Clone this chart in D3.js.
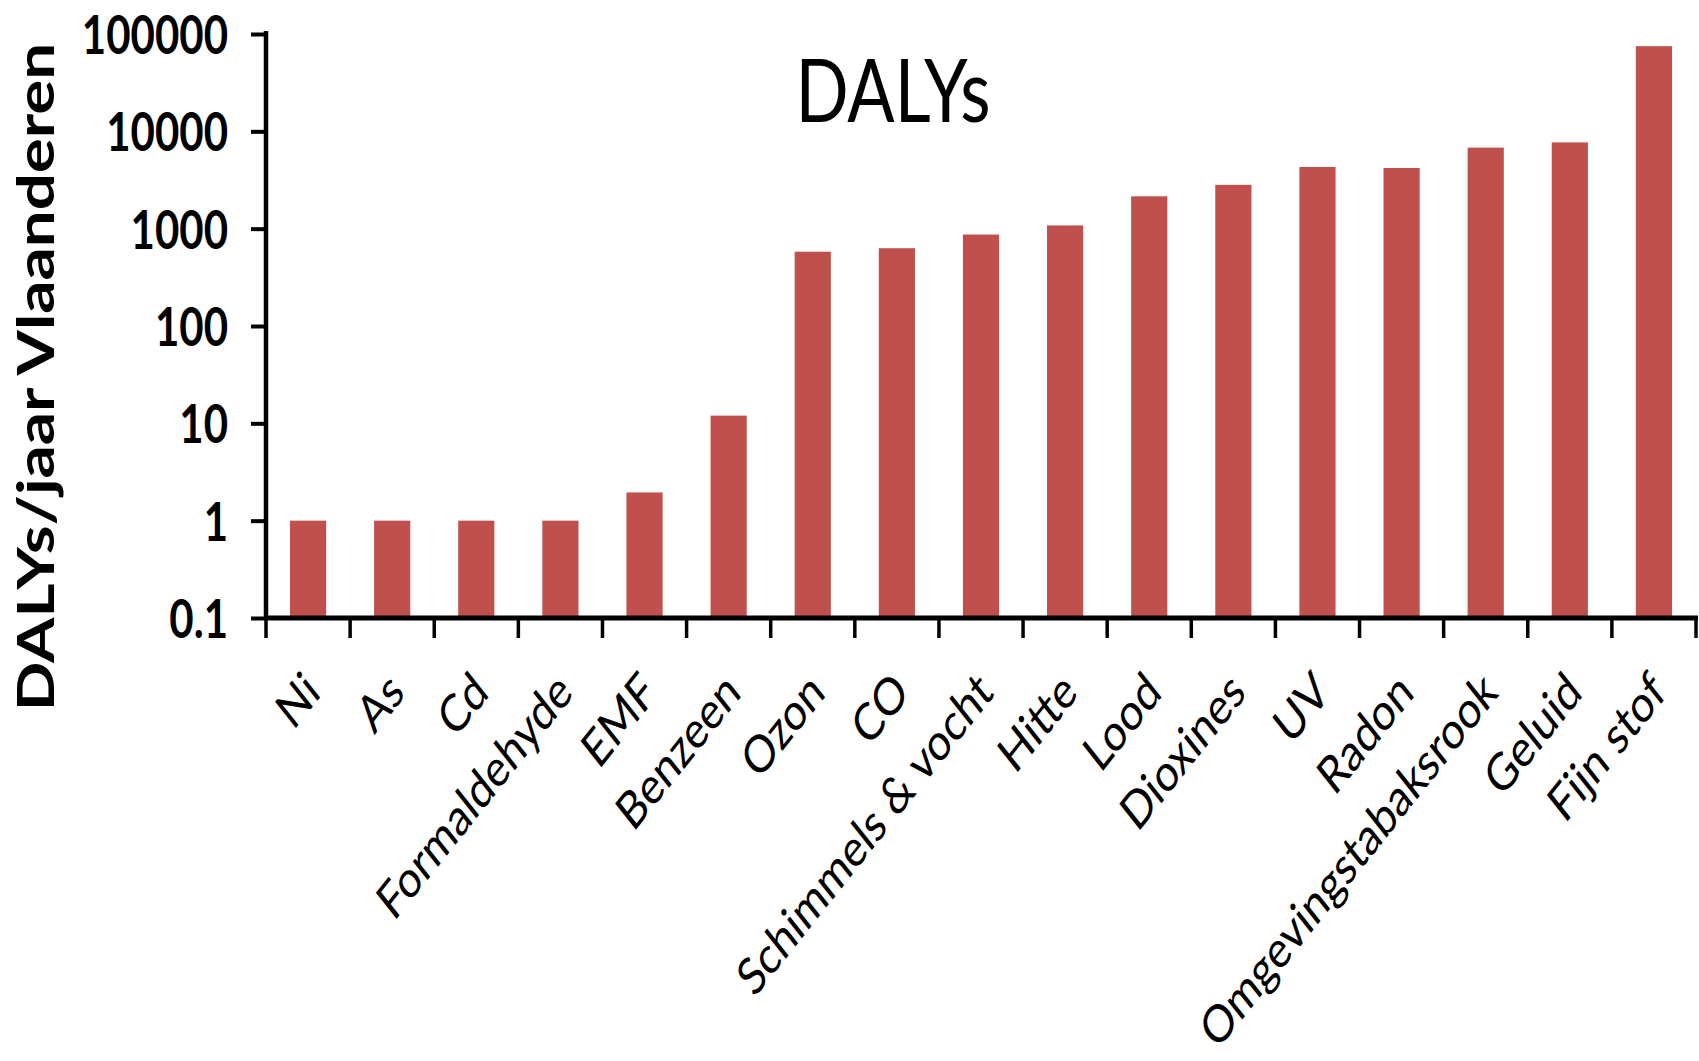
<!DOCTYPE html>
<html>
<head>
<meta charset="utf-8">
<script src="https://cdn.jsdelivr.net/npm/d3@7"></script>
<style>
  html, body { margin: 0; padding: 0; background: #fff; }
  svg { display: block; }
  text { font-family: Lato, "Open Sans", "DejaVu Sans", sans-serif; fill: #000; }
</style>
</head>
<body>
<svg id="chart" width="1699" height="1061"></svg>
<script>
// ---- data ----
const categories = ["Ni", "As", "Cd", "Formaldehyde", "EMF", "Benzeen", "Ozon", "CO",
  "Schimmels & vocht", "Hitte", "Lood", "Dioxines", "UV", "Radon",
  "Omgevingstabaksrook", "Geluid", "Fijn stof"];
const dalys = [1, 1, 1, 1, 1.95, 12, 580, 630, 870, 1080, 2150, 2820, 4300, 4200, 6800, 7700, 75000];
const yTickValues = [0.1, 1, 10, 100, 1000, 10000, 100000];
const yTickLabels = ["0.1", "1", "10", "100", "1000", "10000", "100000"];
const titleText = "DALYs";
const yAxisTitle = "DALYs/jaar Vlaanderen";

// ---- layout ----
const K = 1.26; // vertical stretch of the original picture
const mLeft = 266, mRight = 1696, mTop = 34, mBottom = 618;
const svg = d3.select("#chart");

const x = d3.scaleBand().domain(categories).range([mLeft, mRight])
  .paddingInner(0.57).paddingOuter(0.285);
const y = d3.scaleLog().domain([0.1, 100000]).range([mBottom, mTop]);

// bars
svg.append("g").selectAll("rect").data(categories).join("rect")
  .attr("x", d => x(d))
  .attr("width", x.bandwidth())
  .attr("y", (d, i) => y(dalys[i]))
  .attr("height", (d, i) => y(0.1) - y(dalys[i]))
  .attr("fill", "#C0504D");

// y axis
const yAxis = d3.axisLeft(y).tickValues(yTickValues).tickSize(15)
  .tickFormat((d, i) => yTickLabels[i]);
const gy = svg.append("g").attr("transform", `translate(${mLeft},0)`).call(yAxis);
gy.select(".domain").remove();
gy.selectAll(".tick line").attr("stroke", "#000").attr("stroke-width", 4);
gy.selectAll(".tick text").remove();
gy.selectAll(".tick").append("text")
  .attr("transform", `translate(-38,0) scale(1,${K})`)
  .attr("text-anchor", "end")
  .attr("dy", "0.37em")
  .style("font-size", "42px")
  .style("font-weight", "700")
  .text((d, i) => yTickLabels[i]);
svg.append("line").attr("x1", mLeft).attr("x2", mLeft).attr("y1", mTop - 3).attr("y2", mBottom + 2)
  .attr("stroke", "#000").attr("stroke-width", 4.5);

// x axis
const step = x.step();
const boundaries = categories.map(d => x(d) - (step - x.bandwidth()) / 2).concat([mRight]);
svg.append("g").selectAll("line").data(boundaries).join("line")
  .attr("x1", d => d).attr("x2", d => d)
  .attr("y1", mBottom).attr("y2", mBottom + 20)
  .attr("stroke", "#000").attr("stroke-width", 3.5);
svg.append("line").attr("x1", mLeft - 2).attr("x2", mRight + 2).attr("y1", mBottom).attr("y2", mBottom)
  .attr("stroke", "#000").attr("stroke-width", 5);

// x labels
svg.append("g").selectAll("text").data(categories).join("text")
  .attr("transform", d => `translate(${x(d) + x.bandwidth() / 2 + 4},${mBottom + 64}) scale(1,${K}) rotate(-45)`)
  .attr("text-anchor", "end")
  .attr("dy", "0.35em")
  .style("font-size", "41px")
  .text(d => d);

// title
svg.append("text")
  .attr("transform", `translate(893,122) scale(1,${K})`)
  .attr("text-anchor", "middle")
  .style("font-size", "70px")
  .text(titleText);

// y axis title
svg.append("text")
  .attr("transform", `translate(54,377) scale(1,${K}) rotate(-90)`)
  .attr("text-anchor", "middle")
  .style("font-size", "52px")
  .style("font-weight", "700")
  .text(yAxisTitle);
</script>
</body>
</html>
